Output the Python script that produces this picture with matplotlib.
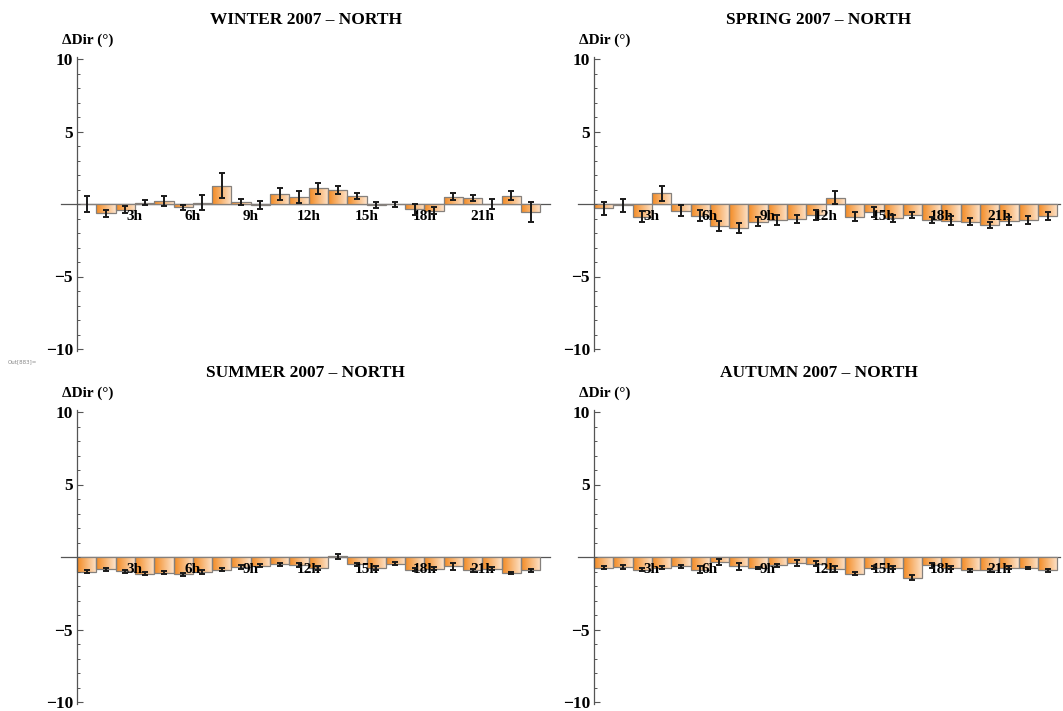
import numpy as np
import matplotlib
matplotlib.use("Agg")
import matplotlib.pyplot as plt
from matplotlib.colors import LinearSegmentedColormap

plt.rcParams['font.family'] = ['Liberation Serif', 'DejaVu Serif']
plt.rcParams['font.weight'] = 'bold'

hours = np.arange(24)
hour_ticks = [3, 6, 9, 12, 15, 18, 21]
hour_labels = ["3h", "6h", "9h", "12h", "15h", "18h", "21h"]
y_ticks = [-10, -5, 5, 10]
y_labels = ["\u221210", "\u22125", "5", "10"]

winter = [0.0, -0.65, -0.4, 0.1, 0.23, -0.23, 0.1, 1.26, 0.12, -0.07, 0.67, 0.5,
          1.08, 0.97, 0.57, -0.07, -0.03, -0.37, -0.46, 0.5, 0.44, 0.0, 0.57, -0.53]
winter_err = [0.55, 0.23, 0.25, 0.15, 0.35, 0.15, 0.5, 0.86, 0.2, 0.3, 0.4, 0.4,
              0.37, 0.3, 0.2, 0.18, 0.18, 0.4, 0.25, 0.23, 0.2, 0.37, 0.3, 0.7]

spring = [-0.3, -0.1, -0.87, 0.74, -0.46, -0.8, -1.5, -1.68, -1.22, -1.1, -1.03, -0.76,
          0.44, -0.87, -0.57, -0.99, -0.76, -1.1, -1.15, -1.22, -1.45, -1.17, -1.1, -0.8]
spring_err = [0.45, 0.45, 0.4, 0.5, 0.4, 0.38, 0.33, 0.35, 0.3, 0.32, 0.25, 0.32,
              0.45, 0.3, 0.35, 0.25, 0.2, 0.23, 0.3, 0.25, 0.23, 0.3, 0.25, 0.28]

summer = [-1.03, -0.85, -0.97, -1.15, -1.08, -1.2, -1.05, -0.87, -0.7, -0.6, -0.5, -0.55,
          -0.75, 0.05, -0.5, -0.75, -0.45, -0.87, -0.8, -0.65, -0.92, -0.8, -1.1, -0.92]
summer_err = [0.1, 0.1, 0.1, 0.1, 0.1, 0.1, 0.12, 0.12, 0.12, 0.12, 0.1, 0.15,
              0.12, 0.18, 0.1, 0.12, 0.12, 0.1, 0.1, 0.25, 0.1, 0.1, 0.1, 0.12]

autumn = [-0.74, -0.7, -0.87, -0.74, -0.65, -0.87, -0.35, -0.65, -0.76, -0.57, -0.42, -0.46,
          -0.85, -1.15, -0.74, -0.75, -1.43, -0.57, -0.74, -0.92, -0.92, -0.74, -0.76, -0.92]
autumn_err = [0.1, 0.12, 0.1, 0.1, 0.1, 0.23, 0.23, 0.23, 0.1, 0.12, 0.2, 0.15,
              0.2, 0.1, 0.1, 0.1, 0.17, 0.17, 0.1, 0.12, 0.1, 0.1, 0.1, 0.1]

titles = ["WINTER 2007 \u2013 NORTH", "SPRING 2007 \u2013 NORTH",
          "SUMMER 2007 \u2013 NORTH", "AUTUMN 2007 \u2013 NORTH"]

W, H = 1063, 711
UX, UY = 19.3, 14.5
grad_cmap = LinearSegmentedColormap.from_list("bar", ["#F38A22", "#FDE4CC"])
grad = np.linspace(0, 1, 64).reshape(1, -1)

fig = plt.figure(figsize=(W / 100, H / 100), dpi=100)


def panel(x0, y0, xright, title, vals, errs):
    xl, xr = -16 / UX, (xright - x0) / UX
    yl, yh = -10.15, 10.15
    left = x0 + xl * UX
    top = y0 - yh * UY
    bottom = y0 - yl * UY
    ax = fig.add_axes([left / W, 1 - bottom / H, (xright - left) / W, (bottom - top) / H])

    bars = ax.bar(hours, vals, width=1, align='edge', facecolor='none',
                  edgecolor='#85807c', linewidth=0.9, zorder=1.5)
    for b in bars:
        x, w, h = b.get_x(), b.get_width(), b.get_height()
        im = ax.imshow(grad, extent=[x, x + w, min(0, h), max(0, h)], cmap=grad_cmap,
                       aspect='auto', zorder=1, interpolation='bilinear')
        im.set_clip_path(b)
    ax.errorbar(hours + 0.5, vals, yerr=errs, fmt='none', ecolor='#1a1a1a',
                elinewidth=1.4, capsize=2.2, capthick=1.4, zorder=3)

    ax.set_xlim(xl, xr)
    ax.set_ylim(yl, yh)
    for s in ['top', 'right']:
        ax.spines[s].set_visible(False)
    ax.spines['left'].set_position(('data', 0))
    ax.spines['bottom'].set_position(('data', 0))
    for s in ['left', 'bottom']:
        ax.spines[s].set_color('#555555')
        ax.spines[s].set_linewidth(0.9)
    ax.spines['bottom'].set_zorder(0.5)

    ax.set_xticks(hour_ticks)
    ax.set_xticklabels(hour_labels)
    ax.tick_params(axis='x', length=0, pad=4, labelsize=11)
    ax.set_yticks(y_ticks)
    ax.set_yticklabels(y_labels)
    ax.set_yticks(np.arange(-10, 11), minor=True)
    ax.tick_params(axis='y', which='major', direction='in', length=4, width=0.8,
                   color='#555555', labelsize=12.5, pad=3)
    ax.tick_params(axis='y', which='minor', direction='in', length=2.5, width=0.7,
                   color='#555555')

    ax.annotate(title, xy=(0.5, 1), xycoords='axes fraction', xytext=(0, 26.5),
                textcoords='offset points', ha='center', va='center', fontsize=12.5)
    ax.annotate("\u0394Dir (\u00b0)", xy=(0, 1), xycoords='axes fraction', xytext=(1, 12),
                textcoords='offset points', ha='left', va='center', fontsize=11)
    return ax


panel(77, 204, 550, titles[0], winter, winter_err)
panel(594, 204, 1060, titles[1], spring, spring_err)
panel(77, 557, 550, titles[2], summer, summer_err)
panel(594, 557, 1060, titles[3], autumn, autumn_err)

fig.text(8 / W, 1 - 362 / H, "Out[883]=", fontsize=4, color='#888888',
         fontweight='normal', family='DejaVu Sans', va='center')

fig.savefig("out.png", dpi=100)
